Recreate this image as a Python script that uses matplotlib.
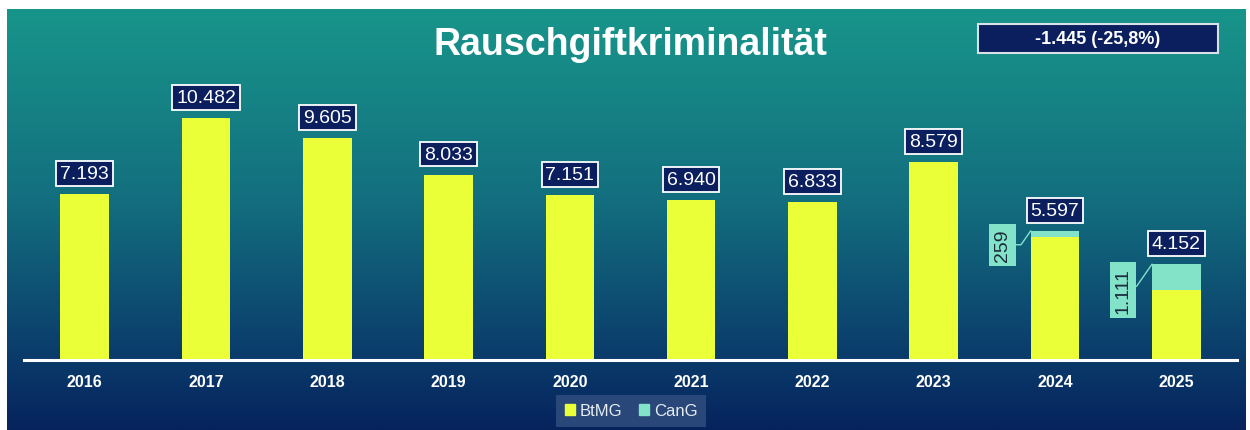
import matplotlib.pyplot as plt
import matplotlib.patches as mpatches
from matplotlib.colors import LinearSegmentedColormap
import numpy as np

# Daten
jahre = ['2016', '2017', '2018', '2019', '2020', '2021', '2022', '2023', '2024', '2025']
btmg = [7193, 10482, 9605, 8033, 7151, 6940, 6833, 8579, 5338, 3041]
cang = [0, 0, 0, 0, 0, 0, 0, 0, 259, 1111]

gelb = '#ebff38'
mint = '#82e3c9'
navy = '#0b1f5e'


def deutsch(v):
    return f"{v:,}".replace(',', '.')


gesamt = [b + c for b, c in zip(btmg, cang)]
diff = gesamt[-1] - gesamt[-2]
proz = diff / gesamt[-2] * 100

fig = plt.figure(figsize=(12.5, 4.31), dpi=100)
fig.patch.set_facecolor('white')

# Hintergrund mit Farbverlauf
bg = fig.add_axes([7 / 1250, 0, 1239 / 1250, 421 / 431])
cmap = LinearSegmentedColormap.from_list(
    'verlauf', [(0.0, '#18958a'), (0.45, '#136f7f'), (0.8, '#0b3f6c'), (1.0, '#06235e')])
grad = np.linspace(0, 1, 256).reshape(-1, 1)
bg.imshow(grad, aspect='auto', cmap=cmap, extent=[0, 1, 0, 1])
bg.set_axis_off()

# Balken
ax = fig.add_axes([24 / 1250, 70 / 431, 1213 / 1250, 301 / 431])
ax.patch.set_alpha(0)
x = np.arange(len(jahre))
ax.bar(x, btmg, width=0.4, color=gelb, zorder=2)
ax.bar(x, cang, width=0.4, bottom=btmg, color=mint, zorder=2)

ax.set_xlim(-0.5, 9.5)
ax.set_ylim(0, 13036)
ax.set_yticks([])
ax.set_xticks(x)
ax.set_xticklabels(jahre, color='white', fontsize=11.5, fontweight='bold')
ax.tick_params(axis='x', length=0, pad=10)
for s in ['top', 'right', 'left']:
    ax.spines[s].set_visible(False)
ax.spines['bottom'].set_color('white')
ax.spines['bottom'].set_linewidth(2.2)

# Werte über den Balken
for i, v in enumerate(gesamt):
    ax.annotate(deutsch(v), (i, v), xytext=(0, 12), textcoords='offset pixels',
                ha='center', va='bottom', color='white', fontsize=14,
                bbox=dict(boxstyle='square,pad=0.2', fc=navy, ec='white', lw=1.3))

# CanG-Beschriftungen seitlich
versatz = {8: (-28, -14), 9: (-29, -26)}
for i, (dx, dy) in versatz.items():
    ax.annotate(deutsch(cang[i]), (i - 0.2, gesamt[i]), xytext=(dx, dy),
                textcoords='offset pixels', rotation=90, ha='center', va='center',
                color='#1b2b3b', fontsize=14,
                bbox=dict(boxstyle='square,pad=0.25', fc=mint, ec='none'),
                arrowprops=dict(arrowstyle='-', color=mint, lw=1,
                                shrinkA=0, shrinkB=0,
                                connectionstyle='angle,angleA=0,angleB=55,rad=0'))

# Titel
fig.text(630 / 1250, 1 - 55 / 431, 'Rauschgiftkriminalität', ha='center', va='baseline',
         color='white', fontsize=27, fontweight='bold', family='Liberation Sans')

# Veränderung oben rechts
fig.patches.append(mpatches.Rectangle((978 / 1250, 1 - 54 / 431), 240 / 1250, 29 / 431,
                                      transform=fig.transFigure, fc=navy, ec='#d8e0e8', lw=1.5))
proz_txt = f"{proz:.1f}".replace('.', ',')
txt = f"{deutsch(diff)} ({proz_txt}%)"
fig.text(1098 / 1250, 1 - 39.5 / 431, txt, ha='center', va='center',
         color='white', fontsize=13, fontweight='bold', family='Liberation Sans')

# Legende
handles = [mpatches.Patch(color=gelb, label='BtMG'), mpatches.Patch(color=mint, label='CanG')]
leg = fig.legend(handles=handles, loc='center', bbox_to_anchor=(631 / 1250, 19 / 431), ncol=2,
                 fontsize=12, frameon=True, facecolor='#2d4b7c', edgecolor='none',
                 framealpha=0.9, handlelength=0.6, handleheight=0.6, handletextpad=0.3,
                 columnspacing=1.0, borderpad=0.5, fancybox=False)
for t in leg.get_texts():
    t.set_color('#e6ecf2')
    t.set_family('Liberation Sans')

for t in ax.get_xticklabels():
    t.set_family('Liberation Sans')
for t in ax.texts:
    t.set_family('Liberation Sans')

fig.savefig('out.png', dpi=100)
